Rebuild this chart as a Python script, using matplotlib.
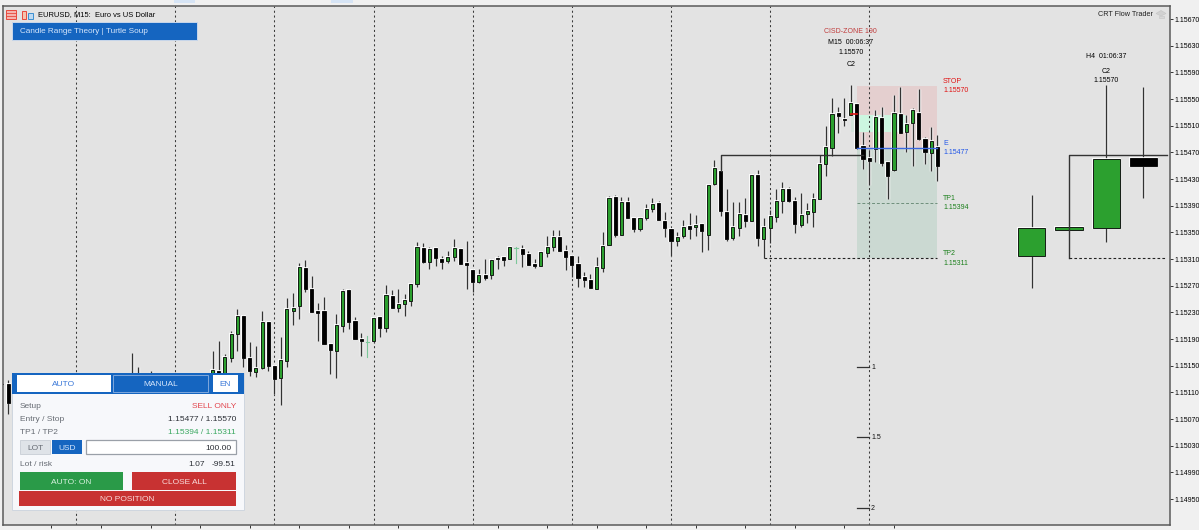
import matplotlib
matplotlib.use("Agg")
import matplotlib.pyplot as plt
import matplotlib.patheffects as pe
from matplotlib.patches import Rectangle, Polygon

plt.rcParams['font.family'] = ['Liberation Sans', 'DejaVu Sans']

# === Data: M15 candles, in points above 1.15000 (None = hidden behind the panel) ===
base_price = 1.15

m15_high = [124, 128] + [None] * 19 + [169, 148, None, 142] + [None] * 9 + [
    172, 187, 168, 202, 235, 226, 186, 180, 232, 216, 151, 193, 252, 259, 304, 308, 284, 244, 253, 183,
    228, 265, 265, 223, 199, 195, 222, 223, 271, 263, 265, 258, 272, 336, 334, 328, 327, 315, 322, 340,
    327, 337, 294, 295, 310, 310, 315, 313, 328, 328, 331, 322, 310, 322, 345, 354, 354, 331, 315, 315,
    290, 287, 313, 351, 405, 406, 403, 403, 372, 373, 392, 402, 397, 381, 355, 351, 369, 379, 376, 362,
    421, 458, 442, 415, 395, 395, 402, 436, 444, 372, 384, 415, 426, 418, 403, 409, 394, 409, 466, 510,
    552, 538, 552, 571, 543, 501, 474, 534, 538, 455, 556, 568, 526, 536, 565, 493, 508, 496]
m15_low = [121, 78] + [None] * 19 + [106, 106, None, 106] + [None] * 9 + [
    121, 121, 121, 155, 172, 148, 134, 133, 145, 142, 108, 91, 148, 211, 220, 260, 231, 187, 183, 138,
    132, 200, 205, 190, 165, 163, 184, 193, 200, 236, 231, 225, 240, 268, 304, 295, 300, 295, 304, 307,
    302, 265, 260, 274, 279, 280, 295, 300, 310, 304, 298, 301, 296, 299, 313, 322, 322, 294, 283, 268,
    268, 266, 265, 290, 331, 343, 346, 372, 351, 352, 369, 381, 369, 343, 315, 330, 342, 340, 345, 321,
    324, 421, 375, 337, 338, 345, 358, 367, 330, 312, 334, 366, 379, 396, 349, 358, 364, 358, 400, 434,
    464, 499, 510, 526, 475, 445, 421, 455, 450, 400, 442, 499, 470, 450, 488, 453, 442, 427]
m15_open = [123, 122] + [None] * 19 + [131, 131, None, 131] + [None] * 9 + [
    121, 142, 128, 161, 198, 224, 161, 141, 147, 215, 150, 131, 157, 232, 240, 296, 265, 232, 232, 183,
    172, 210, 263, 217, 190, 186, 187, 223, 206, 254, 236, 242, 247, 272, 327, 306, 327, 310, 307, 313,
    325, 304, 294, 276, 286, 286, 312, 313, 310, 327, 325, 317, 302, 299, 319, 328, 343, 322, 315, 302,
    283, 278, 265, 297, 331, 403, 346, 395, 372, 355, 372, 385, 394, 367, 355, 337, 345, 360, 358, 362,
    346, 423, 442, 380, 342, 357, 376, 367, 436, 340, 357, 373, 397, 415, 397, 361, 377, 380, 400, 453,
    477, 529, 520, 526, 543, 480, 462, 475, 522, 455, 444, 527, 500, 514, 529, 490, 469, 478]
m15_close = [122, 94] + [None] * 19 + [116, 116, None, 116] + [None] * 9 + [
    144, 128, 163, 198, 225, 161, 142, 147, 216, 150, 130, 158, 235, 237, 298, 265, 231, 229, 183, 174,
    211, 262, 216, 190, 187, 186, 222, 206, 256, 236, 242, 248, 272, 328, 306, 325, 312, 306, 313, 327,
    302, 301, 276, 286, 282, 308, 310, 308, 328, 327, 317, 301, 299, 320, 328, 343, 322, 313, 301, 281,
    278, 266, 298, 330, 402, 346, 395, 372, 355, 372, 385, 392, 369, 357, 337, 343, 358, 355, 361, 352,
    421, 447, 382, 340, 358, 378, 367, 436, 342, 358, 375, 397, 415, 397, 363, 376, 382, 400, 453, 478,
    528, 525, 518, 544, 476, 460, 457, 523, 454, 434, 529, 499, 512, 534, 490, 470, 487, 450]

# H4 candles on the right, same units
h4_high = [406, 358, 571, 568]
h4_low = [266, 354, 336, 402]
h4_open = [315, 354, 357, 462]
h4_close = [356, 358, 460, 450]

# Trade levels and labels
stop_level = 570
entry_level = 477
tp1_level = 394
tp2_level = 311
crt_high_level = 466
fvg_top = 526
fvg_bottom = 500
rr_levels = [148.5, 43, -63]
rr_labels = ['1', '1.5', '2']

price_ticks = [1.15670, 1.15630, 1.15590, 1.15550, 1.15510, 1.15470, 1.15430, 1.15390, 1.15350, 1.15310,
               1.15270, 1.15230, 1.15190, 1.15150, 1.15110, 1.15070, 1.15030, 1.14990, 1.14950]


def price(points):
    return base_price + points / 1e5


W, H = 1199, 530
fig = plt.figure(figsize=(W / 100, H / 100), dpi=100, facecolor='#f0f0f0')

# chart area: 2.5..1170 px across, 5.5..525 px down
ax = fig.add_axes([2.5 / W, 1 - 525 / H, (1170 - 2.5) / W, (525 - 5.5) / H], facecolor='#e3e3e3')
ax.set_xlim(0.1, 188.55)
ax.set_ylim(price(-89), price(690.25))

# === Zones behind the candles ===
box_left, box_right = 138, 151
ax.add_patch(Rectangle((box_left, price(entry_level)), box_right - box_left, price(stop_level) - price(entry_level),
                       fc='#e4cfcf', ec='none', zorder=1))
ax.add_patch(Rectangle((box_left, price(tp2_level)), box_right - box_left, price(entry_level) - price(tp2_level),
                       fc='#cbd9d2', ec='none', zorder=1))
ax.add_patch(Rectangle((137, price(fvg_bottom)), 1, price(fvg_top) - price(fvg_bottom),
                       fc='#d3e3da', ec='none', zorder=1.1))
ax.add_patch(Rectangle((box_left, price(fvg_bottom)), 7.9, price(fvg_top) - price(fvg_bottom),
                       fc='#ccf6e0', ec='none', zorder=1.1))

# Session separators every 16 bars
for i in range(12, 152, 16):
    ax.axvline(i, color='#3a3a3a', lw=0.75, dashes=(2.0, 2.6), zorder=1.5)


# === Candles ===
def draw_candle(x, o, h, l, c, width):
    if o == c:
        # flat candle, the terminal draws it in a pale green
        ax.plot([x, x], [price(l), price(h)], color='#7cc79a', lw=0.8, zorder=3)
        ax.plot([x - 0.3, x + 0.3], [price(o), price(o)], color='#7cc79a', lw=0.8, zorder=3)
        return
    ax.plot([x, x], [price(l), price(h)], color='#333333', lw=1.0, zorder=2, solid_capstyle='butt',
            path_effects=[pe.withStroke(linewidth=2.5, foreground='white', alpha=0.85)])
    body_colour = '#2ca02f' if c > o else 'black'
    ax.bar(x, abs(price(c) - price(o)), bottom=price(min(o, c)), width=width, color=body_colour,
           edgecolor='black', linewidth=0.6, zorder=3,
           path_effects=[pe.withStroke(linewidth=1.5, foreground='white', alpha=0.85)])


for i in range(len(m15_open)):
    if m15_open[i] is None:
        continue
    draw_candle(i, m15_open[i], m15_high[i], m15_low[i], m15_close[i], 0.5)

h4_start = 166.25
h4_step = 6
h4_x = [h4_start + h4_step * j for j in range(len(h4_open))]
for j in range(len(h4_open)):
    draw_candle(h4_x[j], h4_open[j], h4_high[j], h4_low[j], h4_close[j], 4.4)

# === Lines over the candles ===
ax.plot([116, 116, 139], [price(442), price(crt_high_level), price(crt_high_level)], color='#333333', lw=1, zorder=4)
ax.plot([box_left, box_right], [price(entry_level)] * 2, color='#3b68e0', lw=1, zorder=4)
ax.plot([box_left, box_right], [price(tp1_level)] * 2, color='#6f8f7c', lw=0.7, dashes=(3, 2), zorder=4)
ax.plot([123, box_right], [price(tp2_level)] * 2, color='#222222', lw=0.8, dashes=(2.4, 2), zorder=4)
ax.plot([137, box_left], [price(527)] * 2, color='#e01515', lw=1.2, zorder=4)

ax.plot([h4_x[1], h4_x[1], 188.07], [price(tp2_level), price(crt_high_level), price(crt_high_level)],
        color='#333333', lw=1, zorder=4)
ax.plot([h4_x[1], 187.75], [price(tp2_level)] * 2, color='#222222', lw=0.8, dashes=(2.4, 2), zorder=4)

for level, label in zip(rr_levels, rr_labels):
    ax.plot([138, 140], [price(level)] * 2, color='#333333', lw=0.9, zorder=4)
    ax.annotate(label, (140, price(level)), xytext=(1.3, -0.5), textcoords='offset points',
                fontsize=5, va='center', color='#111111')


# === Level labels, offsets are in points ===
def level_label(level, name, value, colour):
    ax.annotate(name, (box_right, price(level)), xytext=(4.1, 3.2), textcoords='offset points',
                fontsize=5, color=colour, va='center')
    ax.annotate(value, (box_right, price(level)), xytext=(4.1, -3.5), textcoords='offset points',
                fontsize=5, color=colour, va='center')


level_label(stop_level, 'STOP', '1.15570', '#e01010')
level_label(entry_level, 'E', '1.15477', '#1f55e8')
level_label(tp1_level, 'TP1', '1.15394', '#1a7f1a')
level_label(tp2_level, 'TP2', '1.15311', '#1a7f1a')

for text, offset, colour in [('CISD-ZONE 190', 38.8, '#c03c3c'), ('M15  00:06:37', 30.9, 'black'),
                             ('1.15570', 23.5, 'black'), ('C2', 15, 'black')]:
    ax.annotate(text, (137, price(m15_high[137])), xytext=(0, offset), textcoords='offset points',
                fontsize=5, ha='center', va='center', color=colour)

for text, offset in [('H4  01:06:37', 20.8), ('C2', 10), ('1.15570', 3)]:
    ax.annotate(text, (h4_x[2], price(h4_high[2])), xytext=(0, offset), textcoords='offset points',
                fontsize=5, ha='center', va='center', color='black')

# === Axes ===
ax.yaxis.tick_right()
ax.set_yticks(price_ticks)
ax.set_yticklabels(['%.5f' % p for p in price_ticks], fontsize=5, color='black')
ax.tick_params(axis='y', length=2.2, width=0.7, pad=0.8, color='#333333')
ax.set_xticks(range(8, 145, 8))
ax.set_xticklabels([])
ax.tick_params(axis='x', length=2.2, width=0.7, color='#333333')
for side in ax.spines:
    ax.spines[side].set_color('#5a5a5a')
    ax.spines[side].set_linewidth(1.1)

# === Interface furniture, drawn in picture pixels ===
ui = fig.add_axes([0, 0, 1, 1], zorder=5)
ui.set_xlim(0, W)
ui.set_ylim(H, 0)
ui.axis('off')
ui.patch.set_visible(False)


def box(x0, y0, x1, y1, fc, ec='none', lw=0.7):
    ui.add_patch(Rectangle((x0, y0), x1 - x0, y1 - y0, fc=fc, ec=ec, lw=lw))


def label(x, y, text, colour='#666b73', ha='left', size=6):
    ui.text(x, y + 1, text, color=colour, ha=ha, va='center', fontsize=size)


# toolbar scraps along the top edge
box(174, 0, 195, 3, '#d6e4f5')
box(331, 0, 353, 3, '#d6e4f5')

# terminal icons and title
box(5.5, 10, 16, 18.5, '#f4b4ae', ec='#e8483c')
ui.plot([5.5, 16], [13, 13], color='#e8483c', lw=0.6)
ui.plot([5.5, 16], [15.8, 15.8], color='#e8483c', lw=0.6)
box(22, 11, 26, 18.5, '#f4c4ae', ec='#e8483c')
box(28, 12.5, 33, 18.5, '#bcd9f2', ec='#3b8ed0')
label(38, 14, 'EURUSD, M15:  Euro vs US Dollar', 'black', size=5.4)

box(12, 22, 197, 40, '#1565c0', ec='#c9d7ea')
label(20, 30.5, 'Candle Range Theory | Turtle Soup', '#d6e6fb', size=5.85)

label(1152.7, 14, 'CRT Flow Trader', '#222222', ha='right', size=5.2)
ui.add_patch(Polygon([(1156, 13.5), (1161, 10.5), (1166, 13.5), (1161, 16)], fc='#d2d2d2', ec='#c4c4c4', lw=0.4))
ui.add_patch(Polygon([(1158.5, 15.5), (1158.5, 18), (1163.5, 18), (1163.5, 15.5)], fc='#d8d8d8', ec='#c4c4c4', lw=0.4))

# trade panel
box(12, 373, 243.5, 510, '#f7f8fb', ec='#cfd6df')
box(12, 373, 243.5, 394.3, '#1565c0')
box(16.7, 374.7, 111, 392.3, 'white')
label(64, 383.5, 'AUTO', '#3a78d8', ha='center')
box(113, 374.7, 208, 392.3, '#1565c0', ec='#7fa8dc')
label(161, 383.5, 'MANUAL', '#d6e6fb', ha='center')
box(213, 374.7, 237.5, 392.3, 'white')
label(225, 383.5, 'EN', '#3a78d8', ha='center')

label(19.5, 406, 'Setup')
label(236, 406, 'SELL ONLY', '#e2464e', ha='right')
label(19.5, 418.7, 'Entry / Stop')
label(236, 418.7, '1.15477 / 1.15570', '#2b2f36', ha='right')
label(19.5, 431, 'TP1 / TP2')
label(236, 431, '1.15394 / 1.15311', '#3aa860', ha='right')

box(19.7, 439.7, 50, 454.3, '#dfe3e8', ec='#cdd2d9')
label(35, 447, 'LOT', '#666b73', ha='center')
box(52.3, 439.7, 82.3, 454.3, '#1565c0')
label(67.3, 447, 'USD', '#d6e6fb', ha='center')
box(86.3, 439.7, 235.7, 454.3, 'white', ec='#9aa0a8', lw=0.9)
label(231, 447, '100.00', '#2b2f36', ha='right')

label(19.5, 463.7, 'Lot / risk')
label(205, 463.7, '1.07', '#2b2f36', ha='right')
label(236, 463.7, '-99.51', '#2b2f36', ha='right')

box(20, 472.3, 123.3, 489.7, '#2a9a48')
label(71.6, 481, 'AUTO: ON', '#d9f2e0', ha='center')
box(132.3, 472.3, 235.7, 489.7, '#c83232')
label(184, 481, 'CLOSE ALL', '#f8dcdc', ha='center')
box(19.3, 490.7, 236, 505.7, '#c83232')
label(127.6, 498.2, 'NO POSITION', '#f8dcdc', ha='center')

fig.savefig('out.png', dpi=100, facecolor=fig.get_facecolor())
